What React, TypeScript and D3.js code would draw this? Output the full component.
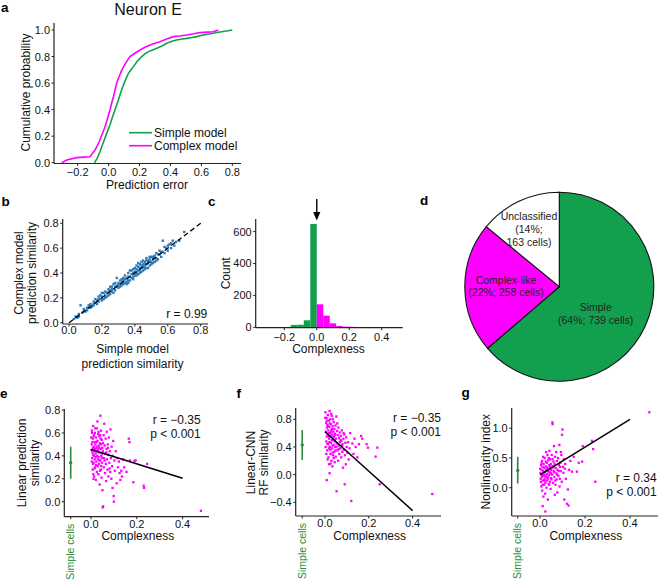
import React from "react";
import * as d3 from "d3";

// ---------------- DATA ----------------
// Panel a: cumulative distributions of prediction error
const simpleErr = [-0.092, -0.075, -0.056, -0.035, -0.0125, 0.01, 0.025, 0.041, 0.052, 0.063, 0.08, 0.1, 0.113, 0.128, 0.145, 0.16, 0.185, 0.214, 0.235, 0.257, 0.285, 0.311, 0.345, 0.376, 0.41, 0.44, 0.475, 0.505, 0.54, 0.57, 0.61, 0.64, 0.677, 0.72, 0.763, 0.8];
const simpleCum = [0, 0.03, 0.083, 0.15, 0.221, 0.29, 0.345, 0.397, 0.435, 0.472, 0.535, 0.598, 0.635, 0.673, 0.7, 0.724, 0.765, 0.799, 0.82, 0.837, 0.85, 0.862, 0.88, 0.9, 0.915, 0.925, 0.932, 0.937, 0.944, 0.95, 0.962, 0.968, 0.975, 0.985, 0.992, 1.0];
const complexErr = [-0.303, -0.271, -0.207, -0.16, -0.12, -0.105, -0.088, -0.072, -0.056, -0.04, -0.023, -0.008, 0.009, 0.02, 0.031, 0.042, 0.052, 0.068, 0.085, 0.11, 0.138, 0.17, 0.203, 0.235, 0.268, 0.3, 0.332, 0.375, 0.419, 0.46, 0.505, 0.55, 0.591, 0.64, 0.677, 0.71];
const complexCum = [0, 0.02, 0.038, 0.042, 0.045, 0.07, 0.095, 0.13, 0.171, 0.22, 0.271, 0.33, 0.397, 0.45, 0.497, 0.55, 0.598, 0.65, 0.698, 0.75, 0.799, 0.825, 0.849, 0.87, 0.887, 0.9, 0.912, 0.932, 0.95, 0.955, 0.962, 0.972, 0.98, 0.984, 0.987, 1.0];
const errTicks = [-0.2, 0, 0.2, 0.4, 0.6, 0.8];
const probTicks = [0, 0.2, 0.4, 0.6, 0.8, 1.0];

// Panel b: simple vs complex model prediction similarity
const simPairs: [number, number][] = [
  [0.03,0.03],[0.04,0.05],[0.05,0.04],[0.06,0.07],[0.07,0.14],[0.08,0.08],[0.09,0.11],[0.10,0.09],[0.11,0.12],[0.11,0.10],
  [0.12,0.14],[0.13,0.12],[0.13,0.15],[0.14,0.13],[0.15,0.17],[0.15,0.14],[0.16,0.16],[0.16,0.19],[0.17,0.15],[0.17,0.18],
  [0.18,0.21],[0.18,0.17],[0.19,0.19],[0.19,0.22],[0.20,0.18],[0.20,0.21],[0.21,0.24],[0.21,0.19],[0.22,0.22],[0.22,0.25],
  [0.23,0.21],[0.23,0.24],[0.24,0.27],[0.24,0.22],[0.25,0.26],[0.25,0.23],[0.26,0.29],[0.26,0.25],[0.27,0.27],[0.27,0.31],
  [0.28,0.26],[0.28,0.29],[0.29,0.36],[0.29,0.30],[0.30,0.28],[0.30,0.32],[0.31,0.34],[0.31,0.29],[0.32,0.33],[0.32,0.30],
  [0.33,0.36],[0.33,0.31],[0.34,0.35],[0.34,0.38],[0.35,0.33],[0.35,0.36],[0.36,0.40],[0.36,0.34],[0.37,0.37],[0.37,0.42],
  [0.38,0.36],[0.38,0.39],[0.39,0.43],[0.39,0.37],[0.40,0.41],[0.40,0.38],[0.40,0.44],[0.41,0.40],[0.41,0.43],[0.42,0.39],
  [0.42,0.45],[0.43,0.42],[0.43,0.47],[0.43,0.40],[0.44,0.44],[0.44,0.46],[0.45,0.42],[0.45,0.47],[0.46,0.45],[0.46,0.49],
  [0.46,0.43],[0.47,0.47],[0.47,0.50],[0.48,0.44],[0.48,0.48],[0.49,0.51],[0.49,0.46],[0.50,0.49],[0.50,0.53],[0.51,0.48],
  [0.51,0.51],[0.52,0.54],[0.52,0.49],[0.53,0.52],[0.53,0.56],[0.54,0.51],[0.55,0.55],[0.55,0.58],[0.56,0.53],[0.57,0.57],
  [0.57,0.66],[0.58,0.56],[0.59,0.60],[0.60,0.58],[0.61,0.63],[0.62,0.60],[0.63,0.66],[0.64,0.62],[0.65,0.65],[0.67,0.66],
  [0.70,0.73],[0.30,0.30],[0.32,0.35],[0.34,0.32],[0.36,0.37],[0.38,0.42],[0.39,0.40],[0.41,0.38],[0.42,0.42],[0.43,0.44],
  [0.44,0.41],[0.45,0.45],[0.46,0.47],[0.47,0.44],[0.48,0.50],[0.49,0.49],[0.50,0.47],[0.51,0.53],[0.52,0.52],[0.53,0.50],
  [0.54,0.55],[0.44,0.49],[0.41,0.46],[0.37,0.34],[0.35,0.31],[0.33,0.34],[0.28,0.32],[0.26,0.27],[0.24,0.25],[0.22,0.20],
  [0.20,0.24],[0.18,0.19],[0.15,0.15],[0.12,0.12],[0.09,0.09],[0.06,0.05],[0.56,0.57],[0.58,0.61],[0.60,0.62],[0.62,0.64],
  [0.49,0.53],[0.47,0.52],[0.45,0.50],[0.42,0.48],[0.39,0.35],[0.36,0.32],[0.31,0.31],[0.27,0.24],[0.25,0.29]
];
const simTicks = [0, 0.2, 0.4, 0.6, 0.8];
const simR = "r = 0.99";

// Panel c: complexness histogram
const histBinStart = [-0.36, -0.32, -0.28, -0.24, -0.2, -0.16, -0.12, -0.08, -0.04, 0, 0.04, 0.08, 0.12, 0.16, 0.2, 0.24, 0.28, 0.32, 0.36, 0.4, 0.44, 0.48];
const histCounts = [1, 2, 1, 1, 2, 15, 16, 44, 648, 144, 73, 25, 8, 4, 3, 2, 1, 1, 1, 1, 2, 1];
const histBinWidth = 0.04;
const histXTicks = [-0.2, 0, 0.2, 0.4];
const histYTicks = [0, 200, 400, 600];

// Panel d: pie
const pieNames = ["Simple", "Complex-like", "Unclassified"];
const pieCounts = [739, 258, 163];
const piePercents = [64, 22, 14];

// Panels e, f, g
const complexTicks = [0, 0.2, 0.4];
const ePoints: [number, number][] = [
  [0.002,0.45],[0.004,0.62],[0.005,0.38],[0.006,0.52],[0.007,0.28],[0.008,0.55],[0.009,0.41],[0.010,0.66],[0.011,0.34],[0.012,0.48],
  [0.013,0.58],[0.014,0.22],[0.015,0.44],[0.016,0.37],[0.017,0.60],[0.018,0.30],[0.019,0.50],[0.020,0.42],[0.021,0.19],[0.022,0.56],
  [0.023,0.35],[0.024,0.47],[0.025,0.64],[0.026,0.26],[0.027,0.40],[0.028,0.53],[0.029,0.31],[0.030,0.45],[0.031,0.59],[0.032,0.24],
  [0.033,0.39],[0.034,0.49],[0.035,0.33],[0.036,0.57],[0.037,0.43],[0.038,0.15],[0.039,0.51],[0.040,0.36],[0.041,0.75],[0.042,0.46],
  [0.043,0.28],[0.044,0.62],[0.045,0.40],[0.046,0.21],[0.047,0.54],[0.048,0.34],[0.049,0.47],[0.050,0.10],[0.051,-0.05],[0.052,0.44],
  [0.053,-0.04],[0.055,0.58],[0.056,0.30],[0.057,0.38],[0.058,0.68],[0.060,0.49],[0.061,0.25],[0.062,0.42],[0.064,0.55],[0.065,0.33],
  [0.066,0.18],[0.068,0.46],[0.069,0.61],[0.070,0.37],[0.072,0.28],[0.073,0.50],[0.075,0.41],[0.076,0.22],[0.078,0.56],[0.080,0.34],
  [0.082,0.44],[0.084,0.26],[0.085,0.63],[0.087,0.38],[0.089,0.20],[0.090,0.48],[0.092,0.31],[0.094,0.12],[0.095,0.40],[0.097,0.53],
  [0.099,0.05],[0.100,0.00],[0.102,0.36],[0.104,0.27],[0.108,0.44],[0.112,0.16],[0.115,0.38],[0.118,0.30],[0.122,0.35],[0.125,0.25],
  [0.128,0.19],[0.132,0.27],[0.135,0.22],[0.14,0.37],[0.145,0.30],[0.155,0.26],[0.165,0.55],[0.168,0.52],[0.17,0.36],[0.185,0.17],
  [0.19,0.355],[0.195,0.36],[0.23,0.14],[0.232,0.12],[0.245,0.33],[0.48,-0.08],[0.003,0.50],[0.006,0.43],[0.009,0.33],[0.012,0.57],
  [0.015,0.29],[0.018,0.46],[0.021,0.39],[0.024,0.52],[0.027,0.44],[0.030,0.37],[0.033,0.61],[0.036,0.47],[0.039,0.27],[0.042,0.55],
  [0.045,0.31],[0.048,0.42],[0.001,0.56],[0.004,0.35],[0.008,0.47],[0.013,0.40],[0.019,0.64],[0.026,0.48],[0.034,0.43],[0.040,0.58],
  [0.047,0.38],[0.053,0.51],[0.059,0.36],[0.067,0.43],[0.074,0.47],[0.081,0.29],[0.010,0.24],[0.016,0.52],[0.022,0.32],[0.028,0.70],
  [0.037,0.36],[0.044,0.50],[0.005,0.60],[0.011,0.20]
];
const eFit: [number, number][] = [[0, 0.455], [0.4, 0.205]];
const eSimple = { mean: 0.34, lo: 0.2, hi: 0.48 };
const eTicks = [0, 0.2, 0.4, 0.6, 0.8];
const eStats = ["r = \u22120.35", "p < 0.001"];

const fPoints: [number, number][] = [
  [0.002,0.90],[0.004,0.62],[0.005,0.75],[0.006,0.48],[0.007,0.82],[0.008,0.55],[0.009,0.68],[0.010,0.35],[0.011,0.72],[0.012,0.58],
  [0.013,0.86],[0.014,0.44],[0.015,0.64],[0.016,0.25],[0.017,0.78],[0.018,0.52],[0.019,0.15],[0.020,0.69],[0.021,0.92],[0.022,0.40],
  [0.023,0.60],[0.024,0.80],[0.025,0.30],[0.026,0.56],[0.027,0.73],[0.028,0.46],[0.029,0.20],[0.030,0.65],[0.031,0.85],[0.032,0.38],
  [0.033,0.58],[0.034,0.12],[0.035,0.70],[0.036,0.50],[0.037,0.28],[0.038,0.62],[0.039,0.43],[0.040,0.76],[0.041,0.55],[0.042,0.33],
  [0.043,0.66],[0.044,0.18],[0.045,0.48],[0.046,0.59],[0.047,0.40],[0.048,0.71],[0.049,0.26],[0.050,0.52],[0.052,0.84],[0.053,-0.24],
  [0.054,0.45],[0.055,0.63],[0.057,0.35],[0.058,0.57],[0.060,0.20],[0.061,0.68],[0.062,0.42],[0.064,0.53],[0.065,0.30],[0.067,0.61],
  [0.068,0.47],[0.070,0.38],[0.072,0.56],[0.074,0.25],[0.075,0.49],[0.077,0.64],[0.079,0.33],[0.080,0.44],[0.082,0.10],[0.084,0.52],
  [0.086,0.36],[0.088,0.58],[0.090,-0.14],[0.091,0.28],[0.093,0.46],[0.095,0.15],[0.097,0.54],[0.099,0.40],[0.102,0.32],[0.105,0.47],
  [0.108,0.22],[0.112,0.38],[0.115,0.60],[0.12,-0.38],[0.125,0.45],[0.13,0.30],[0.135,0.52],[0.14,0.40],[0.148,0.25],[0.155,0.44],
  [0.165,0.56],[0.17,0.52],[0.19,0.44],[0.196,0.39],[0.231,0.26],[0.239,0.39],[0.25,-0.14],[0.49,-0.28],[0.003,0.40],[0.006,0.30],
  [0.009,0.78],[0.012,0.22],[0.016,0.60],[0.020,0.47],[0.024,0.36],[0.028,0.88],[0.032,0.66],[0.036,0.80],[0.040,0.24],[0.044,0.57],
  [0.048,0.35],[0.014,0.70],[0.018,0.38],[0.022,0.74],[0.026,0.16],[0.030,0.50],[0.034,0.42],[0.038,0.54],[0.001,0.82],[0.011,0.45],
  [0.019,0.55],[0.027,0.62],[0.035,0.32],[0.043,0.50],[0.051,0.40],[0.056,0.74],[0.063,0.37],[0.071,0.50],[0.078,0.42],[0.085,0.60],
  [0.008,-0.08],[0.021,0.02]
];
const fFit: [number, number][] = [[0, 0.62], [0.4, -0.52]];
const fSimple = { mean: 0.43, lo: 0.21, hi: 0.645 };
const fTicks = [-0.4, 0, 0.4, 0.8];
const fStats = ["r = \u22120.35", "p < 0.001"];

const gPoints: [number, number][] = [
  [0.002,0.25],[0.004,0.10],[0.005,0.38],[0.006,0.02],[0.007,0.30],[0.008,0.18],[0.009,0.45],[0.010,-0.05],[0.011,0.22],[0.012,0.35],
  [0.013,0.12],[0.014,0.28],[0.015,-0.15],[0.016,0.40],[0.017,0.20],[0.018,0.05],[0.019,0.33],[0.020,0.15],[0.021,0.50],[0.022,0.26],
  [0.023,-0.10],[0.024,0.08],[0.025,0.36],[0.026,0.19],[0.027,0.60],[0.028,0.30],[0.029,0.00],[0.030,0.42],[0.031,0.23],[0.032,0.12],
  [0.033,0.55],[0.034,0.32],[0.035,-0.20],[0.036,0.17],[0.037,0.46],[0.038,0.27],[0.039,0.06],[0.040,0.38],[0.041,0.21],[0.042,0.62],
  [0.043,0.34],[0.044,0.10],[0.045,0.48],[0.046,0.25],[0.047,-0.02],[0.048,0.40],[0.049,0.16],[0.050,0.30],[0.052,0.55],[0.054,0.22],
  [0.055,1.10],[0.056,1.07],[0.057,0.36],[0.058,0.08],[0.060,0.44],[0.061,0.28],[0.062,0.70],[0.064,0.18],[0.065,0.40],[0.067,0.52],
  [0.068,0.12],[0.070,0.33],[0.072,0.60],[0.073,0.24],[0.075,0.45],[0.077,-0.08],[0.078,0.30],[0.080,0.50],[0.082,0.20],[0.084,0.38],
  [0.086,0.72],[0.088,0.15],[0.090,0.42],[0.092,0.28],[0.095,0.55],[0.097,0.10],[0.098,0.89],[0.100,0.98],[0.102,0.35],[0.104,0.25],
  [0.106,0.48],[0.108,-0.20],[0.110,0.32],[0.112,0.40],[0.115,0.15],[0.12,-0.27],[0.124,-0.03],[0.127,-0.30],[0.13,0.30],[0.135,0.45],
  [0.142,0.27],[0.15,0.52],[0.164,0.27],[0.172,0.42],[0.187,0.44],[0.19,0.70],[0.231,0.79],[0.236,0.65],[0.246,0.10],[0.486,1.27],
  [0.012,-0.31],[0.024,-0.40],[0.003,0.15],[0.007,0.42],[0.011,0.05],[0.016,0.26],[0.021,0.12],[0.026,0.44],[0.031,0.34],[0.036,0.28],
  [0.041,0.05],[0.046,0.36],[0.051,0.14],[0.056,0.48],[0.063,0.26],[0.069,0.05],[0.074,0.14],[0.083,0.28],[0.089,0.35],[0.093,0.60],
  [0.001,0.32],[0.009,0.20],[0.019,0.22],[0.029,0.18],[0.039,0.50],[0.049,0.24],[0.059,0.34],[0.066,-0.12],[0.076,0.22],[0.087,0.02],
  [0.014,0.52],[0.034,0.15],[0.044,0.26]
];
const gFit: [number, number][] = [[0, 0.215], [0.4, 1.15]];
const gSimple = { mean: 0.29, lo: 0.07, hi: 0.52 };
const gTicks = [0, 0.5, 1.0];
const gStats = ["r = 0.34", "p < 0.001"];

// ---------------- STYLE ----------------
const FONT = "Arial, 'Liberation Sans', Helvetica, sans-serif";
const GREEN = "#12a04f";
const MAGENTA = "#ff00ff";
const BLUE = "#2b7bba";
const DKGREEN = "#2b8a35";
const AX = "#222";
const TICK_FS = 11;
const LAB_FS = 12;

const fmt1 = d3.format(".1f");
const fmt0 = d3.format("d");

type Sc = d3.ScaleLinear<number, number>;

function LAxes(props: {
  left: number; bottom: number; right: number; top: number;
  x: Sc; y: Sc; xTicks: number[]; yTicks: number[];
  xFmt: (v: number) => string; yFmt: (v: number) => string; xLabY: number;
  extraXTick?: number;
}) {
  const { left, bottom, right, top, x, y, xTicks, yTicks, xFmt, yFmt, xLabY, extraXTick } = props;
  return (
    <g fontFamily={FONT} fontSize={TICK_FS} fill="#111">
      <line x1={left} x2={left} y1={top} y2={bottom} stroke={AX} strokeWidth={1.2} />
      <line x1={left} x2={right} y1={bottom} y2={bottom} stroke={AX} strokeWidth={1.2} />
      {xTicks.map((t) => (
        <g key={"x" + t}>
          <line x1={x(t)} x2={x(t)} y1={bottom} y2={bottom + 2.5} stroke={AX} strokeWidth={1} />
          <text x={x(t)} y={xLabY} textAnchor="middle">{xFmt(t)}</text>
        </g>
      ))}
      {extraXTick !== undefined && (
        <line x1={x(extraXTick)} x2={x(extraXTick)} y1={bottom} y2={bottom + 2.5} stroke={AX} strokeWidth={1} />
      )}
      {yTicks.map((t) => (
        <g key={"y" + t}>
          <line x1={left - 2.5} x2={left} y1={y(t)} y2={y(t)} stroke={AX} strokeWidth={1} />
          <text x={left - 4} y={y(t)} dy="0.36em" textAnchor="end">{yFmt(t)}</text>
        </g>
      ))}
    </g>
  );
}

function RotLabel({ x, y, lines, gap = 13, size = LAB_FS, color = "#111" }: { x: number; y: number; lines: string[]; gap?: number; size?: number; color?: string }) {
  return (
    <g>
      {lines.map((l, i) => (
        <text key={i} transform={`translate(${x + i * gap},${y}) rotate(-90)`} textAnchor="middle" dy="0.35em"
          fontFamily={FONT} fontSize={size} fill={color}>{l}</text>
      ))}
    </g>
  );
}

function PanelLetter({ x, y, t }: { x: number; y: number; t: string }) {
  return <text x={x} y={y} fontFamily={FONT} fontSize={13.5} fontWeight="bold" fill="#000">{t}</text>;
}

function ScatterPanel(props: {
  x: Sc; y: Sc; pts: [number, number][]; fit: [number, number][];
  simple: { mean: number; lo: number; hi: number }; simpleX: number;
  left: number; bottom: number; right: number; top: number; yTicks: number[];
  stats: string[]; statsX: number; statsY: number; ylab: string[]; ylabX: number; ylabY: number; xlabX: number;
}) {
  const p = props;
  const line = d3.line<[number, number]>().x((d) => p.x(d[0])).y((d) => p.y(d[1]));
  return (
    <g>
      <LAxes left={p.left} bottom={p.bottom} right={p.right} top={p.top} x={p.x} y={p.y}
        xTicks={complexTicks} yTicks={p.yTicks} xFmt={fmt1} yFmt={fmt1} xLabY={p.bottom + 11.3} extraXTick={p.simpleX} />
      {p.pts.map((d, i) => (
        <rect key={i} x={p.x(d[0]) - 1.15} y={p.y(d[1]) - 1.15} width={2.3} height={2.3} fill={MAGENTA} />
      ))}
      <path d={line(p.fit) || ""} stroke="#000" strokeWidth={1.5} fill="none" />
      <line x1={p.x(p.simpleX)} x2={p.x(p.simpleX)} y1={p.y(p.simple.lo)} y2={p.y(p.simple.hi)} stroke={DKGREEN} strokeWidth={1.6} />
      <circle cx={p.x(p.simpleX)} cy={p.y(p.simple.mean)} r={1.7} fill={DKGREEN} />
      <text transform={`translate(${p.x(p.simpleX)},${p.bottom + 7}) rotate(-90)`} textAnchor="end" dy="0.35em"
        fontFamily={FONT} fontSize={10.5} fill={DKGREEN}>Simple cells</text>
      <text x={p.xlabX} y={540} textAnchor="middle" fontFamily={FONT} fontSize={LAB_FS} fill="#111">Complexness</text>
      {p.stats.map((s, i) => (
        <text key={i} x={p.statsX} y={p.statsY + i * 14.3} textAnchor="end" fontFamily={FONT} fontSize={LAB_FS} fill="#111">{s}</text>
      ))}
      <RotLabel x={p.ylabX} y={p.ylabY} lines={p.ylab} gap={12.8} />
    </g>
  );
}

export default function App() {
  // ---- panel a ----
  const xA = d3.scaleLinear().domain([-0.2, 0.8]).range([77.7, 232.3]);
  const yA = d3.scaleLinear().domain([0, 1]).range([162.7, 30]);
  const simplePath = d3.line<number>().x((_, i) => xA(simpleErr[i])).y((_, i) => yA(simpleCum[i]))(simpleErr) || "";
  const complexPath = d3.line<number>().x((_, i) => xA(complexErr[i])).y((_, i) => yA(complexCum[i]))(complexErr) || "";

  // ---- panel b ----
  const xB = d3.scaleLinear().domain([0, 0.8]).range([69, 200.7]);
  const yB = d3.scaleLinear().domain([0, 0.8]).range([322.7, 223.3]);

  // ---- panel c ----
  const xC = d3.scaleLinear().domain([-0.2, 0.4]).range([284.3, 381.7]);
  const yC = d3.scaleLinear().domain([0, 600]).range([327.3, 231.6]);

  // ---- panel d ----
  const pieGen = d3.pie<number>().sort(null).value((d) => d);
  const arcs = pieGen(pieCounts);
  const arcGen = d3.arc<d3.PieArcDatum<number>>().innerRadius(0).outerRadius(94.5);
  const pieColors = [GREEN, MAGENTA, "#ffffff"];
  const pcx = 559.3, pcy = 286.7;

  // ---- panels e f g ----
  const xE = d3.scaleLinear().domain([0, 0.4]).range([91, 182.6]);
  const yE = d3.scaleLinear().domain([0, 0.8]).range([501.7, 410]);
  const xF = d3.scaleLinear().domain([0, 0.4]).range([325, 412.6]);
  const yF = d3.scaleLinear().domain([-0.4, 0.8]).range([502.3, 419.3]);
  const xG = d3.scaleLinear().domain([0, 0.4]).range([540, 630]);
  const yG = d3.scaleLinear().domain([0, 1]).range([487.7, 428.3]);

  return (
    <svg width={658} height={580} style={{ position: "absolute", left: 0, top: 0, background: "#fff" }}>
      <rect x={0} y={0} width={658} height={580} fill="#fff" />

      {/* ===== a ===== */}
      <PanelLetter x={1} y={11.5} t="a" />
      <text x={148} y={14.5} textAnchor="middle" fontFamily={FONT} fontSize={16} fill="#111">Neuron E</text>
      <LAxes left={54} bottom={163.5} right={241} top={23} x={xA} y={yA} xTicks={errTicks} yTicks={probTicks}
        xFmt={fmt1} yFmt={fmt1} xLabY={175.5} />
      <path d={simplePath} stroke={GREEN} strokeWidth={1.6} fill="none" />
      <path d={complexPath} stroke={MAGENTA} strokeWidth={1.6} fill="none" />
      <line x1={129} x2={152} y1={132.7} y2={132.7} stroke={GREEN} strokeWidth={1.6} />
      <line x1={129} x2={152} y1={145.7} y2={145.7} stroke={MAGENTA} strokeWidth={1.6} />
      <text x={154} y={132.7} dy="0.35em" fontFamily={FONT} fontSize={LAB_FS} fill="#111">Simple model</text>
      <text x={154} y={145.7} dy="0.35em" fontFamily={FONT} fontSize={LAB_FS} fill="#111">Complex model</text>
      <text x={147} y={189} textAnchor="middle" fontFamily={FONT} fontSize={LAB_FS} fill="#111">Prediction error</text>
      <RotLabel x={26} y={92.5} lines={["Cumulative probability"]} />

      {/* ===== b ===== */}
      <PanelLetter x={1.5} y={206} t="b" />
      <LAxes left={62.7} bottom={324} right={208} top={219} x={xB} y={yB} xTicks={simTicks} yTicks={simTicks}
        xFmt={fmt1} yFmt={fmt1} xLabY={334} />
      {simPairs.map((d, i) => (
        <rect key={i} x={xB(d[0]) - 1.2} y={yB(d[1]) - 1.2} width={2.4} height={2.4} fill={BLUE} />
      ))}
      <line x1={xB(0)} y1={yB(0)} x2={xB(0.8)} y2={yB(0.8)} stroke="#000" strokeWidth={1.3} strokeDasharray="5,3" />
      <text x={207.3} y={317.5} textAnchor="end" fontFamily={FONT} fontSize={LAB_FS} fill="#111">{simR}</text>
      <text x={132.5} y={353} textAnchor="middle" fontFamily={FONT} fontSize={LAB_FS} fill="#111">Simple model</text>
      <text x={132.5} y={368} textAnchor="middle" fontFamily={FONT} fontSize={LAB_FS} fill="#111">prediction similarity</text>
      <RotLabel x={19} y={273} lines={["Complex model", "prediction similarity"]} gap={13} />

      {/* ===== c ===== */}
      <PanelLetter x={208} y={206} t="c" />
      {histBinStart.map((b, i) => (
        <rect key={i} x={xC(b)} y={yC(histCounts[i])} width={xC(b + histBinWidth) - xC(b)}
          height={yC(0) - yC(histCounts[i])} fill={b < 0 ? GREEN : MAGENTA} />
      ))}
      <LAxes left={255.7} bottom={327.7} right={402.7} top={219} x={xC} y={yC} xTicks={histXTicks} yTicks={histYTicks}
        xFmt={fmt1} yFmt={fmt0} xLabY={340.5} />
      <line x1={xC(0)} x2={xC(0)} y1={199} y2={213} stroke="#000" strokeWidth={1.4} />
      <path d={`M${xC(0) - 3.6},${212} L${xC(0) + 3.6},${212} L${xC(0)},${220.5} Z`} fill="#000" />
      <text x={328.5} y={353} textAnchor="middle" fontFamily={FONT} fontSize={LAB_FS} fill="#111">Complexness</text>
      <RotLabel x={226} y={273.3} lines={["Count"]} />

      {/* ===== d ===== */}
      <PanelLetter x={420} y={205} t="d" />
      <g transform={`translate(${pcx},${pcy})`}>
        {arcs.map((a, i) => (
          <path key={i} d={arcGen(a) || ""} fill={pieColors[i]} stroke="#111" strokeWidth={1.1} />
        ))}
      </g>
      <g fontFamily={FONT} fontSize={10.5} fill="#222" textAnchor="middle">
        <text x={529} y={219.5}>{pieNames[2]}</text>
        <text x={529} y={232.5}>({piePercents[2]}%;</text>
        <text x={529} y={246}>{pieCounts[2]} cells)</text>
        <text x={506} y={283.5}>{pieNames[1]}</text>
        <text x={506} y={295.5}>({piePercents[1]}%; {pieCounts[1]} cells)</text>
        <text x={595.7} y={311}>{pieNames[0]}</text>
        <text x={595.7} y={323.5}>({piePercents[0]}%; {pieCounts[0]} cells)</text>
      </g>

      {/* ===== e ===== */}
      <PanelLetter x={0} y={398} t="e" />
      <ScatterPanel x={xE} y={yE} pts={ePoints} fit={eFit} simple={eSimple} simpleX={-0.0886}
        left={64.3} bottom={516.7} right={209} top={409} yTicks={eTicks} stats={eStats} statsX={200.7} statsY={423.5}
        ylab={["Linear prediction", "similarity"]} ylabX={21.7} ylabY={463} xlabX={137.8} />

      {/* ===== f ===== */}
      <PanelLetter x={236.5} y={398} t="f" />
      <ScatterPanel x={xF} y={yF} pts={fPoints} fit={fFit} simple={fSimple} simpleX={-0.104}
        left={295.7} bottom={516} right={441} top={408} yTicks={fTicks} stats={fStats} statsX={441} statsY={421.5}
        ylab={["Linear-CNN", "RF similarity"]} ylabX={251} ylabY={462.5} xlabX={369.7} />

      {/* ===== g ===== */}
      <PanelLetter x={461.5} y={397} t="g" />
      <ScatterPanel x={xG} y={yG} pts={gPoints} fit={gFit} simple={gSimple} simpleX={-0.099}
        left={511.7} bottom={516} right={658} top={408} yTicks={gTicks} stats={gStats} statsX={656.7} statsY={481.5}
        ylab={["Nonlinearity index"]} ylabX={486.2} ylabY={461.7} xlabX={585.8} />
    </svg>
  );
}
